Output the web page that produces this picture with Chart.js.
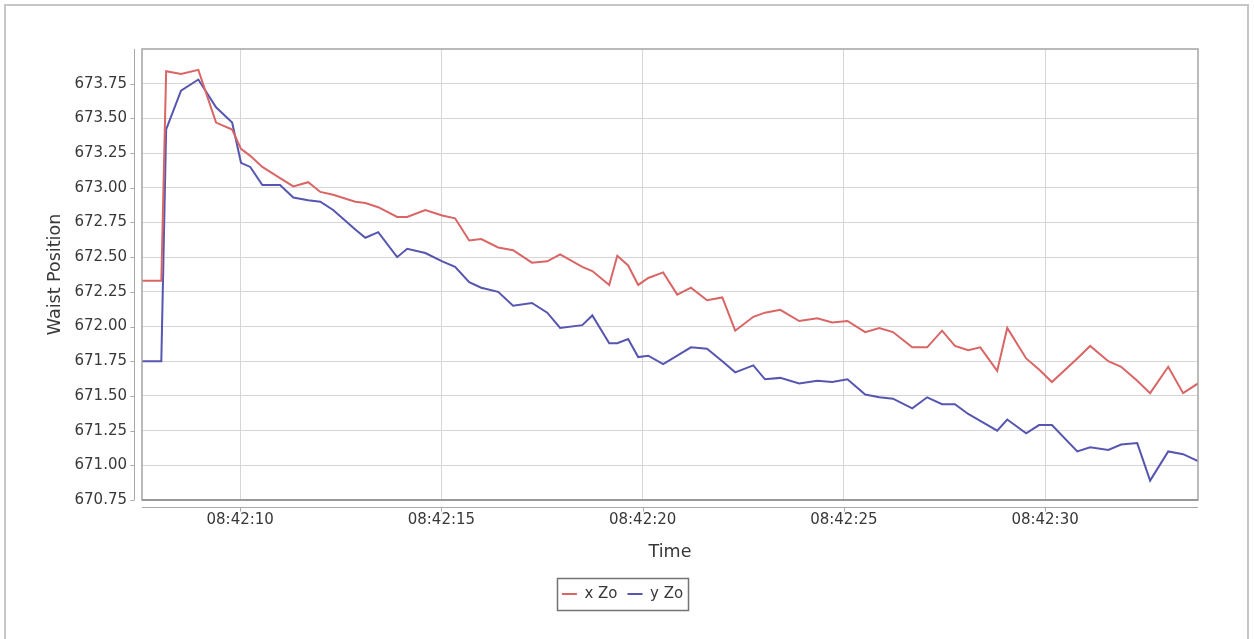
<!DOCTYPE html>
<html>
<head>
<meta charset="utf-8">
<script src="https://cdn.jsdelivr.net/npm/chart.js@4"></script>
<style>
  html, body { margin: 0; padding: 0; background: #fff; overflow: hidden; }
  #wrap { position: relative; width: 1254px; height: 639px; }
  #c { position: absolute; left: 0; top: 0; }
  #panel { position: absolute; left: 4px; top: 4px; width: 1241px; height: 700px;
           border: 2px solid #c6c6c6; pointer-events: none; }
</style>
</head>
<body>
<div id="wrap">
  <canvas id="c" width="1254" height="639"></canvas>
  <div id="panel"></div>
</div>
<script>
// Sample times, in seconds after 08:42:00
const times = [
  7.56, 8.04, 8.16, 8.53, 8.96, 9.40, 9.80, 10.02, 10.25, 10.55,
  10.99, 11.32, 11.69, 11.99, 12.31, 12.86, 13.11, 13.43, 13.90, 14.15,
  14.60, 15.02, 15.34, 15.69, 15.99, 16.41, 16.78, 17.25, 17.63, 17.95,
  18.50, 18.75, 19.17, 19.37, 19.64, 19.89, 20.14, 20.51, 20.86, 21.20,
  21.60, 21.98, 22.30, 22.75, 23.04, 23.42, 23.89, 24.34, 24.71, 25.09,
  25.53, 25.88, 26.22, 26.70, 27.07, 27.44, 27.76, 28.09, 28.39, 28.81,
  29.06, 29.53, 29.85, 30.17, 30.80, 31.12, 31.57, 31.89, 32.29, 32.61,
  33.06, 33.43, 33.80
];

// Waist position, x direction
const xZo = [
  672.33, 672.33, 673.84, 673.82, 673.85, 673.47, 673.42, 673.28, 673.23, 673.15,
  673.07, 673.01, 673.04, 672.97, 672.95, 672.90, 672.89, 672.86, 672.79, 672.79,
  672.84, 672.80, 672.78, 672.62, 672.63, 672.57, 672.55, 672.46, 672.47, 672.52,
  672.43, 672.40, 672.30, 672.51, 672.44, 672.30, 672.35, 672.39, 672.23, 672.28,
  672.19, 672.21, 671.97, 672.07, 672.10, 672.12, 672.04, 672.06, 672.03, 672.04,
  671.96, 671.99, 671.96, 671.85, 671.85, 671.97, 671.86, 671.83, 671.85, 671.68,
  671.99, 671.77, 671.69, 671.60, 671.77, 671.86, 671.75, 671.71, 671.61, 671.52,
  671.71, 671.52, 671.59
];

// Waist position, y direction
const yZo = [
  671.75, 671.75, 673.42, 673.70, 673.78, 673.58, 673.47, 673.18, 673.15, 673.02,
  673.02, 672.93, 672.91, 672.90, 672.84, 672.70, 672.64, 672.68, 672.50, 672.56,
  672.53, 672.47, 672.43, 672.32, 672.28, 672.25, 672.15, 672.17, 672.10, 671.99,
  672.01, 672.08, 671.88, 671.88, 671.91, 671.78, 671.79, 671.73, 671.79, 671.85,
  671.84, 671.75, 671.67, 671.72, 671.62, 671.63, 671.59, 671.61, 671.60, 671.62,
  671.51, 671.49, 671.48, 671.41, 671.49, 671.44, 671.44, 671.37, 671.32, 671.25,
  671.33, 671.23, 671.29, 671.29, 671.10, 671.13, 671.11, 671.15, 671.16, 670.89,
  671.10, 671.08, 671.03
];

const seriesNames = ['x Zo', 'y Zo'];
const timePrefix = '08:42:';
const timeTicks = [10, 15, 20, 25, 30];
const valueTicks = [670.75, 671.00, 671.25, 671.50, 671.75, 672.00, 672.25,
                    672.50, 672.75, 673.00, 673.25, 673.50, 673.75];

const FONT = 'DejaVu Sans';
const RED = '#d96565';
const BLUE = '#5656b0';
const GRID = '#d6d6d6';
const TEXT = '#383838';

// Plot outline plus the axis lines that sit a few pixels away from it
const axisFrame = {
  id: 'axisFrame',
  afterLayout(chart) {
    // legend block sits slightly right of the canvas centre
    const lg = chart.legend;
    lg.left += 23.5;
    lg.right += 23.5;
  },
  afterDatasetsDraw(chart) {
    const { ctx, chartArea: a, scales } = chart;
    ctx.save();
    // outline
    ctx.strokeStyle = '#a4a4a4';
    ctx.lineWidth = 1.5;
    ctx.strokeRect(a.left, a.top, a.right - a.left, a.bottom - a.top);
    ctx.strokeStyle = '#989898';
    ctx.lineWidth = 2;
    ctx.beginPath();
    ctx.moveTo(a.left, a.bottom);
    ctx.lineTo(a.right, a.bottom);
    ctx.stroke();

    // value axis
    ctx.strokeStyle = '#a8a8a8';
    ctx.lineWidth = 1;
    const ax = a.left - 7.5;
    ctx.beginPath();
    ctx.moveTo(ax, a.top);
    ctx.lineTo(ax, a.bottom);
    scales.y.ticks.forEach(t => {
      const py = Math.round(scales.y.getPixelForValue(t.value)) + 0.5;
      ctx.moveTo(ax - 4, py);
      ctx.lineTo(ax, py);
    });
    ctx.stroke();

    // time axis
    const ay = a.bottom + 7.5;
    ctx.beginPath();
    ctx.moveTo(a.left, ay);
    ctx.lineTo(a.right, ay);
    scales.x.ticks.forEach(t => {
      const px = Math.round(scales.x.getPixelForValue(t.value)) + 0.5;
      ctx.moveTo(px, ay);
      ctx.lineTo(px, ay + 4);
    });
    ctx.stroke();
    ctx.restore();
  },
  afterDraw(chart) {
    // box around the legend entries
    const boxes = chart.legend.legendHitBoxes;
    if (!boxes || !boxes.length) return;
    let l = Infinity, r = -Infinity, t = Infinity, b = -Infinity;
    boxes.forEach(h => {
      l = Math.min(l, h.left); r = Math.max(r, h.left + h.width);
      t = Math.min(t, h.top); b = Math.max(b, h.top + h.height);
    });
    const cy = (t + b) / 2;
    const ctx = chart.ctx;
    ctx.save();
    ctx.strokeStyle = '#747474';
    ctx.lineWidth = 1.5;
    ctx.strokeRect(Math.round(l - 5) + 0.5, Math.round(cy - 16) + 0.5,
                   Math.round(r - l + 10), 32);
    ctx.restore();
  }
};

new Chart(document.getElementById('c'), {
  type: 'line',
  data: {
    datasets: [
      {
        label: seriesNames[0],
        data: times.map((t, i) => ({ x: t, y: xZo[i] })),
        borderColor: RED, backgroundColor: RED,
        borderWidth: 2, pointRadius: 0, tension: 0, fill: false
      },
      {
        label: seriesNames[1],
        data: times.map((t, i) => ({ x: t, y: yZo[i] })),
        borderColor: BLUE, backgroundColor: BLUE,
        borderWidth: 2, pointRadius: 0, tension: 0, fill: false
      }
    ]
  },
  options: {
    responsive: false,
    animation: false,
    events: [],
    layout: { padding: { left: 0, right: 56, top: 49, bottom: 27.5 } },
    plugins: {
      tooltip: { enabled: false },
      legend: {
        position: 'bottom',
        labels: {
          usePointStyle: true, pointStyle: 'line', pointStyleWidth: 15,
          padding: 10, color: TEXT,
          font: { family: FONT, size: 15 }
        }
      }
    },
    scales: {
      x: {
        type: 'linear',
        min: times[0], max: times[times.length - 1],
        afterBuildTicks(s) { s.ticks = timeTicks.map(v => ({ value: v })); },
        afterFit(s) { s.height = 76.5; },
        grid: { color: GRID, drawTicks: false, lineWidth: 1 },
        border: { display: false },
        ticks: {
          stepSize: 5, padding: 11, maxRotation: 0, autoSkip: false,
          color: TEXT, font: { family: FONT, size: 15 },
          callback: v => timePrefix + String(Math.round(v)).padStart(2, '0')
        },
        title: {
          display: true, text: 'Time', color: TEXT,
          font: { family: FONT, size: 17.5 },
          padding: { top: 0, bottom: 14 }
        }
      },
      y: {
        type: 'linear',
        min: 670.75, max: 674.0,
        afterBuildTicks(s) { s.ticks = valueTicks.map(v => ({ value: v })); },
        afterFit(s) { s.width = 142; },
        grid: { color: GRID, drawTicks: false, lineWidth: 1 },
        border: { display: false },
        ticks: {
          stepSize: 0.25, padding: 15,
          color: TEXT, font: { family: FONT, size: 15 },
          callback: v => Number(v).toFixed(2)
        },
        title: {
          display: true, text: 'Waist Position', color: TEXT,
          font: { family: FONT, size: 17.5 },
          padding: { top: 44.5, bottom: 0 }
        }
      }
    }
  },
  plugins: [axisFrame]
});
</script>
</body>
</html>
